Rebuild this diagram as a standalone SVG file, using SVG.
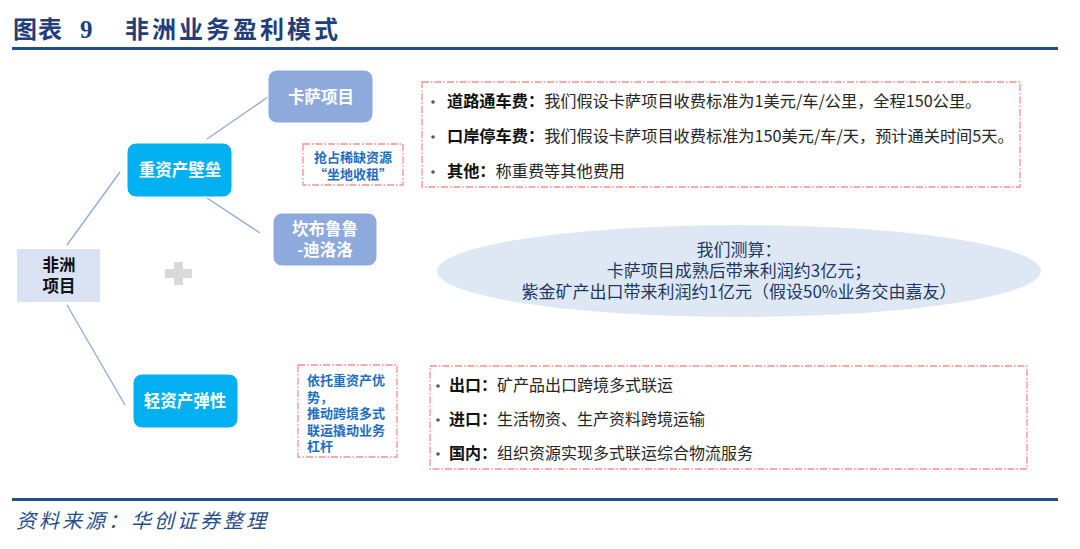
<svg xmlns="http://www.w3.org/2000/svg" width="1080" height="549" viewBox="0 0 1080 549">
<style>
.cjk{font-family:"Microsoft YaHei","Noto Sans CJK SC","Liberation Sans",sans-serif}
.node{stroke:#ffffff;stroke-width:1}
.blue{fill:#00B0F0}
.gray{fill:#8EA9DB}
.wt{fill:#ffffff;font-weight:bold;font-size:16.5px;text-anchor:middle}
.dash{fill:none;stroke:#FF8C8C;stroke-width:1.3;stroke-dasharray:7 2 1.5 2}
.conn{stroke:#8EA9DB;stroke-width:1.3;fill:none}
.body{font-size:16.2px;fill:#262626}
.body2{font-size:16px;fill:#262626}
.b{font-weight:bold;fill:#111}
.note{font-size:13px;font-weight:bold;fill:#1F6FC0}
.ell{font-size:17px;fill:#1F3864;text-anchor:middle}
.bul{fill:#595959}
</style>
<rect width="1080" height="549" fill="#ffffff"/>
<g id="title">
<text x="13" y="38" class="cjk" font-size="24" font-weight="bold" fill="#1F3E7A" letter-spacing="1">图表</text>
<text x="80" y="38" font-family="Liberation Serif,serif" font-size="25" font-weight="bold" fill="#1F3E7A">9</text>
<text x="125" y="38" class="cjk" font-size="24" font-weight="bold" fill="#1F3E7A" letter-spacing="3">非洲业务盈利模式</text>
<rect x="12" y="47" width="1046" height="3" fill="#1F4E8C"/>
</g>
<g id="connectors">
<line class="conn" x1="67" y1="245" x2="120" y2="172"/>
<line class="conn" x1="67" y1="305" x2="125" y2="405"/>
<line class="conn" x1="207" y1="139" x2="268" y2="97"/>
<line class="conn" x1="207" y1="198" x2="260" y2="233"/>
</g>
<g id="africa">
<rect x="17" y="249" width="83" height="53" fill="#D9E2F3"/>
<text x="59" y="271" class="cjk" font-size="16.5" font-weight="bold" fill="#111" text-anchor="middle">非洲</text>
<text x="59" y="292" class="cjk" font-size="16.5" font-weight="bold" fill="#111" text-anchor="middle">项目</text>
</g>
<g id="heavy">
<rect class="node blue" x="127" y="143" width="105" height="54" rx="9"/>
<text x="180" y="176" class="cjk wt">重资产壁垒</text>
</g>
<g id="kasa">
<rect class="node gray" x="268" y="70" width="105" height="53" rx="9"/>
<text x="321" y="103" class="cjk wt">卡萨项目</text>
</g>
<g id="kambove">
<rect class="node gray" x="273" y="213" width="104" height="53" rx="9"/>
<text x="325" y="235" class="cjk wt">坎布鲁鲁</text>
<text x="325" y="256" class="cjk wt">-迪洛洛</text>
</g>
<g id="light">
<rect class="node blue" x="133" y="374" width="105" height="54" rx="9"/>
<text x="185" y="407" class="cjk wt">轻资产弹性</text>
</g>
<g id="plus">
<path d="M174,262 h9 v7 h9 v9 h-9 v7 h-9 v-7 h-9 v-9 h9 z" fill="#D9D9D9"/>
</g>
<g id="note1">
<rect class="dash" x="303" y="144" width="100" height="41"/>
<text x="353" y="162" class="cjk note" text-anchor="middle">抢占稀缺资源</text>
<text x="353" y="179" class="cjk note" text-anchor="middle">“坐地收租”</text>
</g>
<g id="note2">
<rect class="dash" x="298" y="365" width="99" height="92"/>
<text class="cjk note"><tspan x="307" y="385">依托重资产优</tspan><tspan x="307" y="401.5">势，</tspan><tspan x="307" y="418">推动跨境多式</tspan><tspan x="307" y="434.5">联运撬动业务</tspan><tspan x="307" y="451">杠杆</tspan></text>
</g>
<g id="fees">
<rect class="dash" x="422" y="82" width="598" height="105"/>
<circle class="bul" cx="433" cy="102" r="1.8"/>
<circle class="bul" cx="433" cy="137" r="1.8"/>
<circle class="bul" cx="433" cy="172" r="1.8"/>
<text x="447" y="107" class="cjk body"><tspan class="b">道路通车费：</tspan>我们假设卡萨项目收费标准为1美元/车/公里，全程150公里。</text>
<text x="447" y="142" class="cjk body"><tspan class="b">口岸停车费：</tspan>我们假设卡萨项目收费标准为150美元/车/天，预计通关时间5天。</text>
<text x="447" y="177" class="cjk body"><tspan class="b">其他：</tspan>称重费等其他费用</text>
</g>
<g id="estimate">
<ellipse cx="739" cy="271" rx="302" ry="46" fill="#DEE8F5"/>
<text x="739" y="256" class="cjk ell">我们测算：</text>
<text x="739" y="277" class="cjk ell">卡萨项目成熟后带来利润约3亿元；</text>
<text x="739" y="298" class="cjk ell">紫金矿产出口带来利润约1亿元（假设50%业务交由嘉友）</text>
</g>
<g id="logistics">
<rect class="dash" x="430" y="366" width="597" height="103"/>
<circle class="bul" cx="438" cy="386" r="1.8"/>
<circle class="bul" cx="438" cy="420" r="1.8"/>
<circle class="bul" cx="438" cy="454" r="1.8"/>
<text x="449" y="391" class="cjk body2"><tspan class="b">出口：</tspan>矿产品出口跨境多式联运</text>
<text x="449" y="425" class="cjk body2"><tspan class="b">进口：</tspan>生活物资、生产资料跨境运输</text>
<text x="449" y="459" class="cjk body2"><tspan class="b">国内：</tspan>组织资源实现多式联运综合物流服务</text>
</g>
<g id="footer">
<rect x="12" y="498" width="1046" height="3" fill="#1F4E8C"/>
<text x="16" y="528" class="cjk" font-size="20" font-style="italic" fill="#1F4E8C" letter-spacing="3">资料来源：华创证券整理</text>
</g>
</svg>
